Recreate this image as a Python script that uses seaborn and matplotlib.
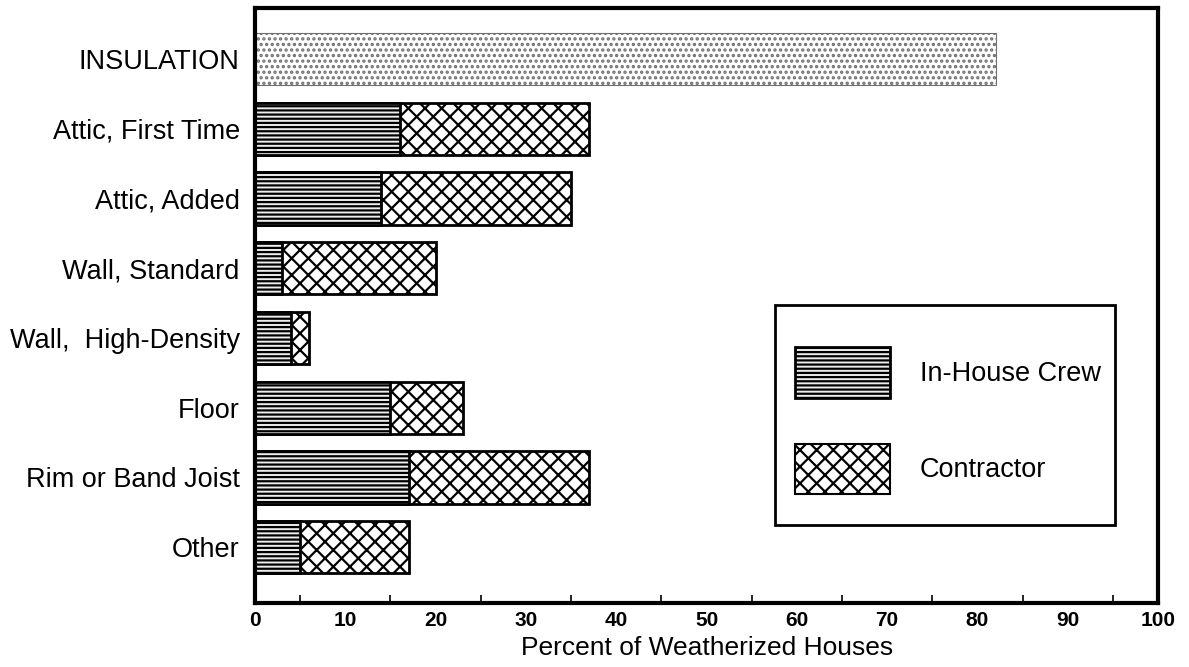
import matplotlib
matplotlib.use("Agg")
import matplotlib.pyplot as plt
from matplotlib.patches import Patch, Rectangle
import seaborn as sns
import numpy as np

# data (percent of weatherized houses)
categories = ["INSULATION", "Attic, First Time", "Attic, Added", "Wall, Standard",
              "Wall,  High-Density", "Floor", "Rim or Band Joist", "Other"]
insulation_total = [82]
sub_categories = categories[1:]
in_house = [16, 14, 3, 4, 15, 17, 5]
contractor = [21, 21, 17, 2, 8, 20, 12]
totals = list(np.add(in_house, contractor))
x_ticks = [0, 10, 20, 30, 40, 50, 60, 70, 80, 90, 100]

sns.set_style("white")
plt.rcParams['font.family'] = ['Liberation Sans', 'DejaVu Sans']
plt.rcParams['text.color'] = 'black'
plt.rcParams['axes.labelcolor'] = 'black'
plt.rcParams['xtick.color'] = 'black'
plt.rcParams['ytick.color'] = 'black'
plt.rcParams['hatch.linewidth'] = 1.6

inhouse_hatch = "----"
inhouse_face = "#ededed"

fig = plt.figure(figsize=(11.89, 6.67), dpi=100)
ax = fig.add_axes([0.2145, 0.096, 0.7595, 0.892])

# total insulation bar
sns.barplot(x=insulation_total, y=categories[:1], order=categories, orient="h",
            color="white", saturation=1, width=0.75, edgecolor="#707070",
            linewidth=0.8, hatch="...", ax=ax)
# contractor part = full stacked length
sns.barplot(x=totals, y=sub_categories, order=categories, orient="h",
            color="white", saturation=1, width=0.75, edgecolor="black",
            linewidth=2, hatch="xx", ax=ax)
# in-house crew part drawn over it
sns.barplot(x=in_house, y=sub_categories, order=categories, orient="h",
            color=inhouse_face, saturation=1, width=0.75, edgecolor="black",
            linewidth=2, hatch=inhouse_hatch, ax=ax)

ax.set_xlim(0, 100)
ax.set_ylim(7.8, -0.73)
ax.set_xticks(x_ticks)
ax.set_xticklabels([str(t) for t in x_ticks], fontweight="bold", fontsize=15)
ax.set_xticks(np.arange(5, 100, 10), minor=True)
ax.tick_params(axis="x", which="major", length=0, pad=6)
ax.tick_params(axis="x", which="minor", length=6, width=1.2, direction="in", bottom=True)
ax.tick_params(axis="y", length=0, pad=11, labelsize=19.5)
ax.set_ylabel("")
ax.set_xlabel("Percent of Weatherized Houses", fontsize=19, labelpad=4)

for side in ax.spines.values():
    side.set_visible(True)
    side.set_linewidth(3)
    side.set_color("black")

# legend box
ax.add_patch(Rectangle((0.576, 0.131), 0.376, 0.370, transform=ax.transAxes,
                       facecolor="white", edgecolor="black", linewidth=2, zorder=4))
handles = [
    Patch(facecolor=inhouse_face, edgecolor="black", linewidth=2, hatch=inhouse_hatch, label="In-House Crew"),
    Patch(facecolor="white", edgecolor="black", linewidth=1.5, hatch="xx", label="Contractor"),
]
leg = ax.legend(handles=handles, loc="upper left", bbox_to_anchor=(0.598, 0.430),
                fontsize=19.5, frameon=False, handlelength=3.5, handleheight=2.5,
                labelspacing=1.7, borderpad=0, borderaxespad=0, handletextpad=1.1)
leg.set_zorder(5)

fig.savefig("out.png", dpi=100)
